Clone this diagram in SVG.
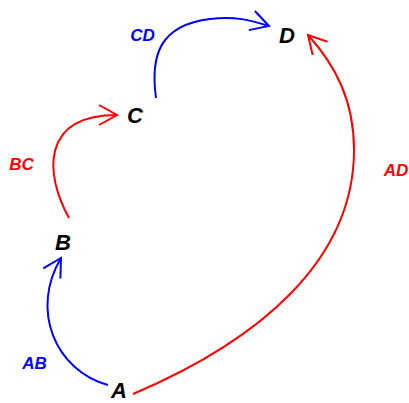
<svg xmlns="http://www.w3.org/2000/svg" width="409" height="403" viewBox="0 0 409 403">
<style>
.node{font-family:"Liberation Sans",Arial,sans-serif;font-weight:bold;font-style:italic;font-size:22px;fill:#000;text-anchor:middle}
.lbl{font-family:"Liberation Sans",Arial,sans-serif;font-weight:bold;font-style:italic;font-size:17px;text-anchor:middle}
.red{stroke:#ff0000;fill:none;stroke-width:2}
.blue{stroke:#0000ff;fill:none;stroke-width:2}
</style>
<defs>
<marker id="ar" markerUnits="userSpaceOnUse" orient="auto" markerWidth="30" markerHeight="30" refX="0" refY="0" viewBox="-25 -15 30 30" overflow="visible">
<path d="M-18,-10 L0,0 L-18,10" fill="none" stroke="#ff0000" stroke-width="2"/>
</marker>
<marker id="ab" markerUnits="userSpaceOnUse" orient="auto" markerWidth="30" markerHeight="30" refX="0" refY="0" viewBox="-25 -15 30 30" overflow="visible">
<path d="M-18,-10 L0,0 L-18,10" fill="none" stroke="#0000ff" stroke-width="2"/>
</marker>
</defs>
<rect width="409" height="403" fill="#fff"/>
<g id="connectors">
<path class="blue" d="M108,385 C55,370 30,310 61,258" marker-end="url(#ab)"/>
<path class="red" d="M69,218 C45,175 40,115 117,115" marker-end="url(#ar)"/>
<path class="blue" d="M156,98 C150,55 160,25 210,19 C235,16 250,20 269,26" marker-end="url(#ab)"/>
<path class="red" d="M133,394 C260,340 354,260 354,150 C354,100 335,65 308,35" marker-end="url(#ar)"/>
<text class="lbl" x="34.5" y="369" fill="#0000ff">AB</text>
<text class="lbl" x="21.5" y="170" fill="#ff0000">BC</text>
<text class="lbl" x="142.5" y="41" fill="#0000ff">CD</text>
<text class="lbl" x="396" y="176" fill="#ff0000">AD</text>
</g>
<g id="A"><text class="node" x="119" y="398">A</text></g>
<g id="B"><text class="node" x="63" y="250">B</text></g>
<g id="C"><text class="node" x="135" y="123">C</text></g>
<g id="D"><text class="node" x="287" y="43">D</text></g>
</svg>
